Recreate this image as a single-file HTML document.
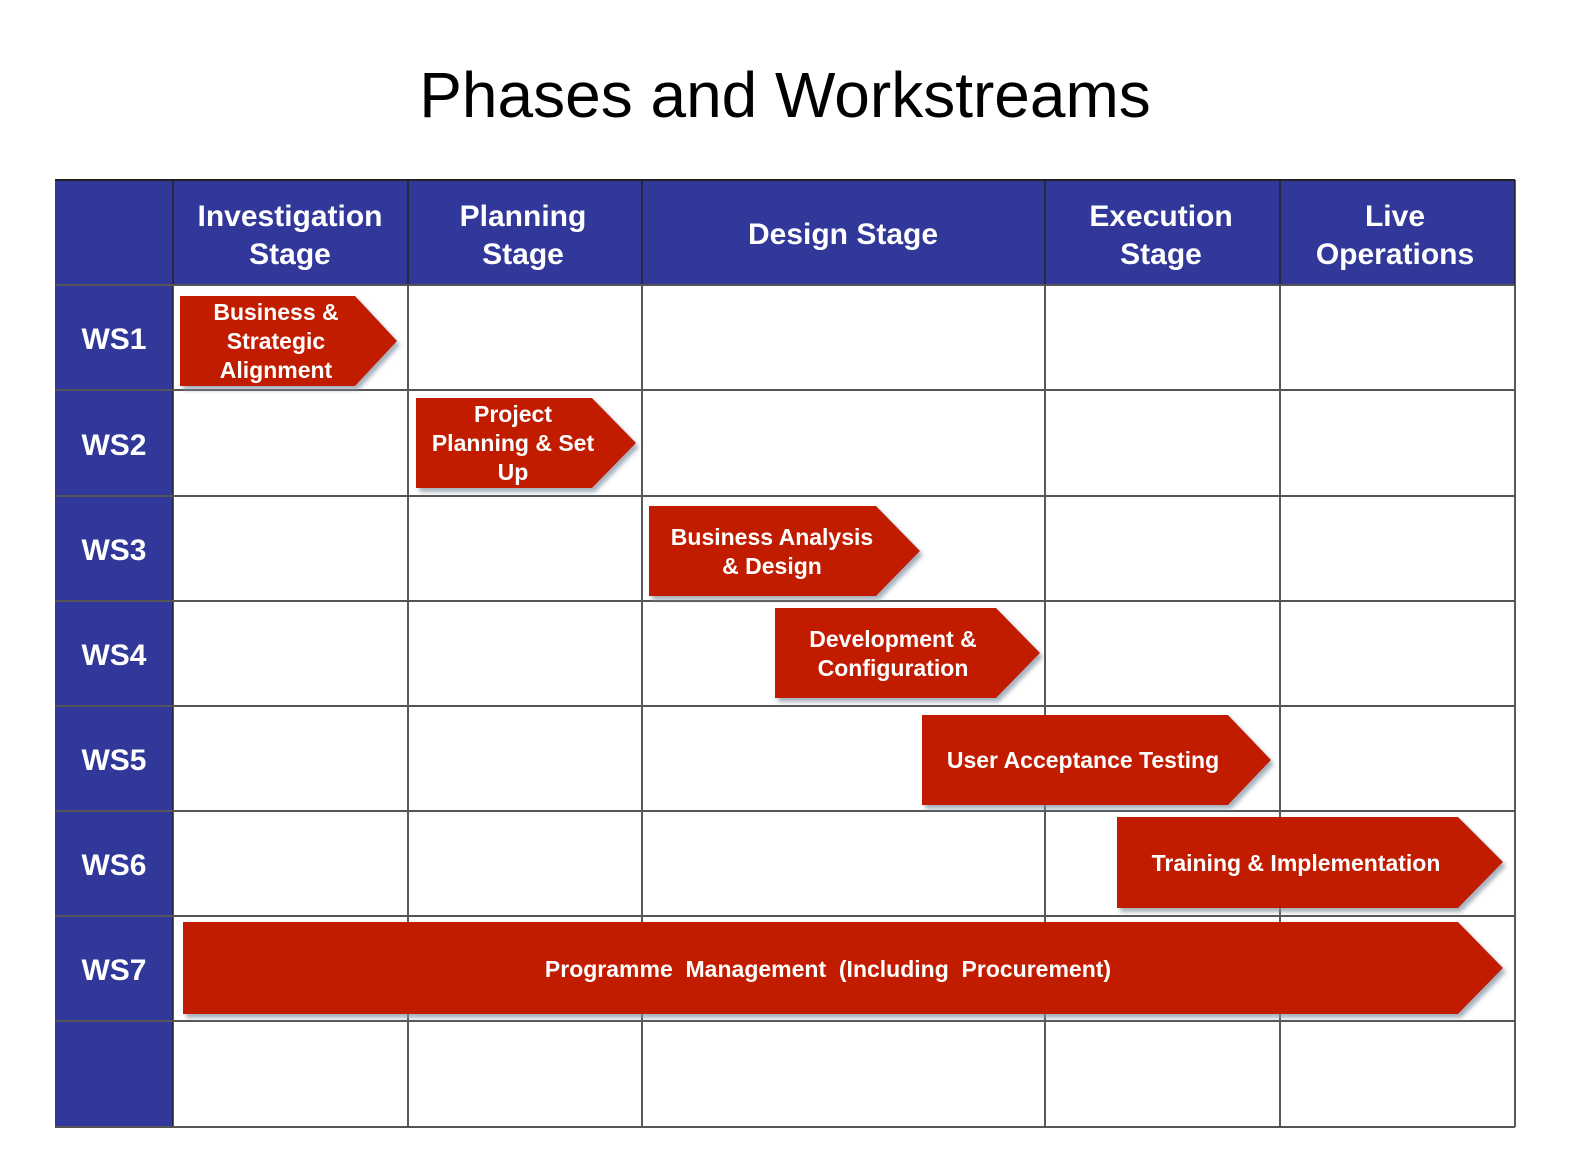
<!DOCTYPE html><html><head><style>body{margin:0;background:#fff}</style></head><body>
<svg width="1570" height="1170" xmlns="http://www.w3.org/2000/svg" style="font-family:'Liberation Sans',Arial,sans-serif">
<defs><filter id="s" x="-5%" y="-5%" width="115%" height="120%"><feDropShadow dx="3" dy="4" stdDeviation="2" flood-color="#8090a0" flood-opacity="0.7"/></filter></defs>
<text x="785" y="117" font-size="64" text-anchor="middle" fill="#000">Phases and Workstreams</text>
<rect x="55" y="180" width="1460" height="105" fill="#313899"/>
<rect x="55" y="180" width="118" height="947" fill="#313899"/>
<g stroke="#222" stroke-width="1.5">
<line x1="173" y1="180" x2="173" y2="1127"/><line x1="408" y1="180" x2="408" y2="1127"/><line x1="642" y1="180" x2="642" y2="1127"/><line x1="1045" y1="180" x2="1045" y2="1127"/><line x1="1280" y1="180" x2="1280" y2="1127"/><line x1="1515" y1="180" x2="1515" y2="1127"/>
<line x1="55" y1="180" x2="1515" y2="180" stroke-width="2"/>
</g>
<g stroke="#555" stroke-width="2">
<line x1="55" y1="285" x2="1515" y2="285"/><line x1="55" y1="390" x2="1515" y2="390"/><line x1="55" y1="496" x2="1515" y2="496"/><line x1="55" y1="601" x2="1515" y2="601"/><line x1="55" y1="706" x2="1515" y2="706"/><line x1="55" y1="811" x2="1515" y2="811"/><line x1="55" y1="916" x2="1515" y2="916"/><line x1="55" y1="1021" x2="1515" y2="1021"/><line x1="55" y1="1127" x2="1515" y2="1127"/>
</g>
<g fill="#fff" font-weight="bold" font-size="30" text-anchor="middle">
<text x="290" y="226">Investigation</text><text x="290" y="264">Stage</text>
<text x="523" y="226">Planning</text><text x="523" y="264">Stage</text>
<text x="843" y="244">Design Stage</text>
<text x="1161" y="226">Execution</text><text x="1161" y="264">Stage</text>
<text x="1395" y="226">Live</text><text x="1395" y="264">Operations</text>
</g>
<g fill="#fff" font-weight="bold" font-size="30" text-anchor="middle">
<text x="114" y="349">WS1</text><text x="114" y="455">WS2</text><text x="114" y="560">WS3</text><text x="114" y="665">WS4</text><text x="114" y="770">WS5</text><text x="114" y="875">WS6</text><text x="114" y="980">WS7</text>
</g>
<g fill="#c21a00" filter="url(#s)">
<polygon points="180,296 355,296 397,341 355,386 180,386"/>
<polygon points="416,398 592,398 636,443 592,488 416,488"/>
<polygon points="649,506 876,506 920,551 876,596 649,596"/>
<polygon points="775,608 996,608 1040,653 996,698 775,698"/>
<polygon points="922,715 1228,715 1271,760 1228,805 922,805"/>
<polygon points="1117,817 1458,817 1503,862 1458,908 1117,908"/>
<polygon points="183,922 1458,922 1503,968 1458,1014 183,1014"/>
</g>
<g fill="#fff" font-weight="bold" font-size="23" text-anchor="middle">
<text x="276" y="320">Business &amp;</text><text x="276" y="349">Strategic</text><text x="276" y="378">Alignment</text>
<text x="513" y="422">Project</text><text x="513" y="451">Planning &amp; Set</text><text x="513" y="480">Up</text>
<text x="772" y="545">Business Analysis</text><text x="772" y="574">&amp; Design</text>
<text x="893" y="647">Development &amp;</text><text x="893" y="676">Configuration</text>
<text x="1083" y="768">User Acceptance Testing</text>
<text x="1296" y="871">Training &amp; Implementation</text>
<text x="828" y="977" xml:space="preserve">Programme  Management  (Including  Procurement)</text>
</g>
</svg>
</body></html>
